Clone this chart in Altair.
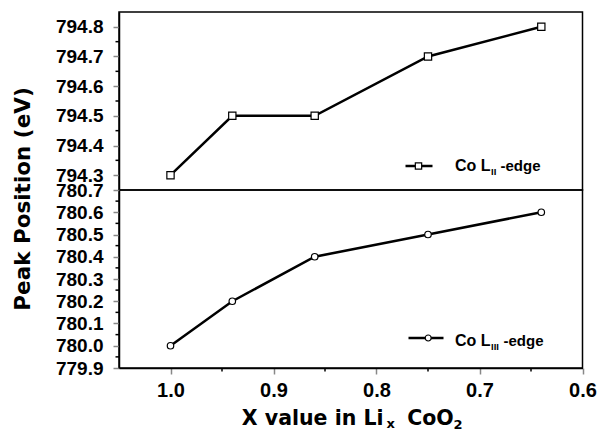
import altair as alt
import pandas as pd

# ---- data ----
x_vals = [1.0, 0.94, 0.86, 0.75, 0.64]
l2_peak = [794.3, 794.5, 794.5, 794.7, 794.8]
l3_peak = [780.0, 780.2, 780.4, 780.5, 780.6]

x_ticks = [1.0, 0.9, 0.8, 0.7, 0.6]
x_minor = [0.95, 0.85, 0.75, 0.65]
l2_ticks = [794.3, 794.4, 794.5, 794.6, 794.7, 794.8]
l2_minor = [794.35, 794.45, 794.55, 794.65, 794.75]
l3_ticks = [779.9, 780.0, 780.1, 780.2, 780.3, 780.4, 780.5, 780.6, 780.7]
l3_minor = [779.95, 780.05, 780.15, 780.25, 780.35, 780.45, 780.55, 780.65]

x_domain = [0.6, 1.05]
l2_domain = [794.25, 794.85]
l3_domain = [779.9, 780.7]

W, H = 463.5, 178
LAB_FONT = "Liberation Sans"
TXT_FONT = "DejaVu Sans"

df2 = pd.DataFrame({"x": x_vals, "y": l2_peak})
df3 = pd.DataFrame({"x": x_vals, "y": l3_peak})

xs = alt.Scale(domain=x_domain, reverse=True, nice=False, zero=False)
ys2 = alt.Scale(domain=l2_domain, nice=False, zero=False)
ys3 = alt.Scale(domain=l3_domain, nice=False, zero=False)

one = alt.Data(values=[{"a": 1}])


def yaxis(vals):
    return alt.Axis(values=vals, format=".1f", title=None, tickSize=6, tickWidth=1.5,
                    labelFont=LAB_FONT, labelFontWeight="bold", labelFontSize=19,
                    labelPadding=10, labelColor="black", domainColor="black",
                    domainWidth=1.5, grid=False, labelOverlap=False, labelBound=False,
                    labelFlush=False)


xaxis = alt.Axis(values=x_ticks, format=".1f", title=None, tickSize=6,
                 tickWidth=1.5, labelFont=LAB_FONT, labelFontWeight="bold",
                 labelFontSize=20, labelPadding=6, labelColor="black",
                 domainColor="black", domainWidth=1.5, grid=False,
                 labelOverlap=False, labelFlush=False, labelBound=False)
ax2 = yaxis(l2_ticks)
ax3 = yaxis(l3_ticks)


def text(t, x, y, size, font=LAB_FONT, angle=0, align="left", baseline="alphabetic"):
    return alt.Chart(one).mark_text(text=t, font=font, fontWeight="bold", fontSize=size,
                                    align=align, baseline=baseline, angle=angle,
                                    color="black").encode(x=alt.value(x), y=alt.value(y))


# ---------- top panel (Co L_II) ----------
top_line = alt.Chart(df2).mark_line(color="black", strokeWidth=2.5).encode(
    x=alt.X("x:Q", scale=xs, axis=None),
    y=alt.Y("y:Q", scale=ys2, axis=ax2),
)
top_pts = alt.Chart(df2).mark_point(shape="square", filled=True, fill="white", stroke="black",
                                    strokeWidth=1.2, size=53, opacity=1).encode(
    x=alt.X("x:Q", scale=xs, axis=None),
    y=alt.Y("y:Q", scale=ys2, axis=ax2),
)
top_minor = alt.Chart(pd.DataFrame({"v": l2_minor})).mark_rule(color="black", strokeWidth=1.5).encode(
    y=alt.Y("v:Q", scale=ys2, axis=ax2), x=alt.value(-3.5), x2=alt.value(0))

top_leg_line = alt.Chart(one).mark_rule(color="black", strokeWidth=2.5).encode(
    x=alt.value(286.5), x2=alt.value(313.5), y=alt.value(154))
top_leg_pt = alt.Chart(one).mark_point(shape="square", filled=True, fill="white", stroke="black",
                                       strokeWidth=1.2, size=40, opacity=1).encode(
    x=alt.value(299.5), y=alt.value(154))

top = alt.layer(
    top_line, top_pts, top_minor, top_leg_line, top_leg_pt,
    text("Co L", 371.5, 159, 16, align="right"),
    text("II", 372, 163, 9.5), text("-edge", 381.5, 159, 15),
).properties(width=W, height=H)

# ---------- bottom panel (Co L_III) ----------
bot_line = alt.Chart(df3).mark_line(color="black", strokeWidth=2.5).encode(
    x=alt.X("x:Q", scale=xs, axis=xaxis),
    y=alt.Y("y:Q", scale=ys3, axis=ax3),
)
bot_pts = alt.Chart(df3).mark_point(shape="circle", filled=True, fill="white", stroke="black",
                                    strokeWidth=1.2, size=42, opacity=1).encode(
    x=alt.X("x:Q", scale=xs, axis=xaxis),
    y=alt.Y("y:Q", scale=ys3, axis=ax3),
)
bot_yminor = alt.Chart(pd.DataFrame({"v": l3_minor})).mark_rule(color="black", strokeWidth=1.5).encode(
    y=alt.Y("v:Q", scale=ys3, axis=ax3), x=alt.value(-3.5), x2=alt.value(0))
bot_xminor = alt.Chart(pd.DataFrame({"v": x_minor})).mark_rule(color="black", strokeWidth=1.5).encode(
    x=alt.X("v:Q", scale=xs, axis=xaxis), y=alt.value(H), y2=alt.value(H + 3.5))

bot_leg_line = alt.Chart(one).mark_rule(color="black", strokeWidth=2.5).encode(
    x=alt.value(289.5), x2=alt.value(324.5), y=alt.value(148))
bot_leg_pt = alt.Chart(one).mark_point(shape="circle", filled=True, fill="white", stroke="black",
                                       strokeWidth=1.2, size=36, opacity=1).encode(
    x=alt.value(309.2), y=alt.value(148))

bottom = alt.layer(
    bot_line, bot_pts, bot_yminor, bot_xminor, bot_leg_line, bot_leg_pt,
    text("Co L", 371.5, 156, 16, align="right"),
    text("III", 372, 160, 9.5), text("-edge", 384.5, 156, 15),
    # y title (shared by both panels)
    text("Peak Position (eV)", -95.5, 9, 21.5, font=TXT_FONT, angle=270, align="center",
         baseline="middle"),
    # x title with subscripts
    text("X value in Li", 264.5, 234.7, 20.5, font=TXT_FONT, align="right"),
    text("x", 267.5, 238, 13, font=TXT_FONT),
    text("CoO", 288.2, 234.7, 20.5, font=TXT_FONT),
    text("2", 334.5, 238.5, 13, font=TXT_FONT),
).properties(width=W, height=H)

chart = alt.vconcat(top, bottom, spacing=0, bounds="flush").resolve_scale(y="independent").properties(
    padding={"left": 11, "top": 11, "right": 0, "bottom": 0},
    background="white",
).configure_view(stroke="black", strokeWidth=1.5).configure_axis(labelOverlap=False)

chart.save("out.html", embed_options={"renderer": "svg", "actions": False})
